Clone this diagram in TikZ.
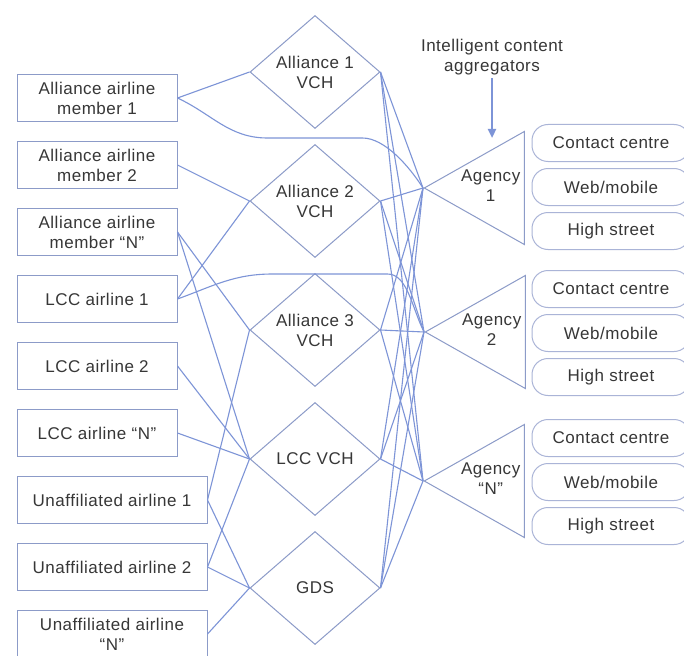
\documentclass[tikz,border=0pt]{standalone}
\usepackage{fontspec}
\setmainfont[LetterSpace=3]{Liberation Sans}
\usepackage{xcolor}
\definecolor{linkblue}{RGB}{125,148,215}
\definecolor{boxblue}{RGB}{140,155,200}
\definecolor{pillblue}{RGB}{170,180,215}
\definecolor{textgray}{RGB}{55,55,55}
\usepackage{tikz}
\usetikzlibrary{shapes.geometric,arrows.meta,positioning,calc}
\newcommand{\diagfont}{\fontsize{17}{20}\selectfont}

\begin{document}
\begin{tikzpicture}[
  x=1pt, y=-1pt,
  node distance=19pt and 20pt,
  airline/.style={rectangle, draw=boxblue, line width=1pt, minimum width=160pt,
                  minimum height=47pt, align=center, inner sep=2pt,
                  font=\diagfont, text=textgray},
  wide/.style={minimum width=190pt},
  hub/.style={diamond, draw=boxblue, line width=1pt, minimum width=130pt,
              minimum height=113pt, inner sep=0pt, align=center,
              font=\diagfont, text=textgray},
  agency/.style={isosceles triangle, isosceles triangle stretches,
                 shape border rotate=180, draw=boxblue, line width=1pt,
                 minimum height=100pt, minimum width=113pt, inner sep=0pt},
  agtext/.style={align=center, font=\diagfont, text=textgray},
  channel/.style={rectangle, rounded corners=16pt, draw=pillblue, line width=1pt,
                  minimum width=158pt, minimum height=37pt,
                  font=\diagfont, text=textgray},
  link/.style={linkblue, line width=1.1pt},
  arr/.style={-{Triangle[width=8pt,length=9pt]}, linkblue, line width=2.2pt}
]
  \path[use as bounding box, fill=white] (0,0) rectangle (684,655);

  % airlines
  \node[airline] (am1) at (97,98) {Alliance airline\\member 1};
  \node[airline, below=of am1] (am2) {Alliance airline\\member 2};
  \node[airline, below=of am2] (amn) {Alliance airline\\member “N”};
  \node[airline, below=of amn] (lc1) {LCC airline 1};
  \node[airline, below=of lc1] (lc2) {LCC airline 2};
  \node[airline, below=of lc2] (lcn) {LCC airline “N”};
  \node[airline, wide, below=of lcn.south west, anchor=north west] (ua1) {Unaffiliated airline 1};
  \node[airline, wide, below=of ua1] (ua2) {Unaffiliated airline 2};
  \node[airline, wide, below=of ua2] (uan) {Unaffiliated airline\\“N”};

  % hubs
  \node[hub] (vch1) at (315,72) {Alliance 1\\VCH};
  \node[hub, below=15pt of vch1] (vch2) {Alliance 2\\VCH};
  \node[hub, below=15pt of vch2] (vch3) {Alliance 3\\VCH};
  \node[hub, below=15pt of vch3] (lccvch) {LCC VCH};
  \node[hub, below=15pt of lccvch] (gds) {GDS};

  % agencies
  \node[agency, anchor=apex] (ag1) at (423,188) {};
  \node[agency, anchor=apex] (ag2) at (424,332) {};
  \node[agency, anchor=apex] (agn) at (423,481) {};
  \node[agtext, anchor=east] (ag1t) at ($(ag1.left corner)!0.5!(ag1.right corner)+(-1,-2)$) {Agency\\1};
  \node[agtext, anchor=east] (ag2t) at ($(ag2.left corner)!0.5!(ag2.right corner)+(-1,-2)$) {Agency\\2};
  \node[agtext, anchor=east] (agnt) at ($(agn.left corner)!0.5!(agn.right corner)+(-1,-2)$) {Agency\\“N”};

  % channels
  \foreach \g/\y in {1/143, 2/289, 3/438} {
    \node[channel] (cc\g) at (611,\y) {Contact centre};
    \node[channel, below=6pt of cc\g] (wm\g) {Web/mobile};
    \node[channel, below=6pt of wm\g] (hs\g) {High street};
  }

  % aggregators note
  \node[agtext] (ica) at (492,57) {Intelligent content\\aggregators};
  \coordinate (icaend) at (492,138);
  \draw[arr] (ica.south) -- (icaend);

  % airlines to hubs
  \draw[link] (am1.east) -- (vch1.west);
  \draw[link] (am2.east) -- (vch2.west);
  \draw[link] (amn.east) -- (vch3.west);
  \draw[link] (amn.east) -- (lccvch.west);
  \draw[link] (lc1.east) -- (vch2.west);
  \draw[link] (lc2.east) -- (lccvch.west);
  \draw[link] (lcn.east) -- (lccvch.west);
  \draw[link] (ua1.east) -- (vch3.west);
  \draw[link] (ua1.east) -- (gds.west);
  \draw[link] (ua2.east) -- (lccvch.west);
  \draw[link] (ua2.east) -- (gds.west);
  \draw[link] (uan.east) -- (gds.west);

  % direct connections
  \draw[link] (am1.east) to[out=-25, in=180] ++(90,40) -- ++(95,0)
    .. controls +(22,0) and +(-14,-22) .. (ag1.apex);
  \draw[link] (lc1.east) to[out=20, in=180] ++(95,-25) -- ++(115,0)
    .. controls +(20,0) and +(-12,-24) .. (ag2.apex);

  % hubs to agencies
  \foreach \h in {vch1,vch2,vch3,lccvch,gds}
    \foreach \a in {ag1,ag2,agn}
      \draw[link] (\h.east) -- (\a.apex);
\end{tikzpicture}
\end{document}
